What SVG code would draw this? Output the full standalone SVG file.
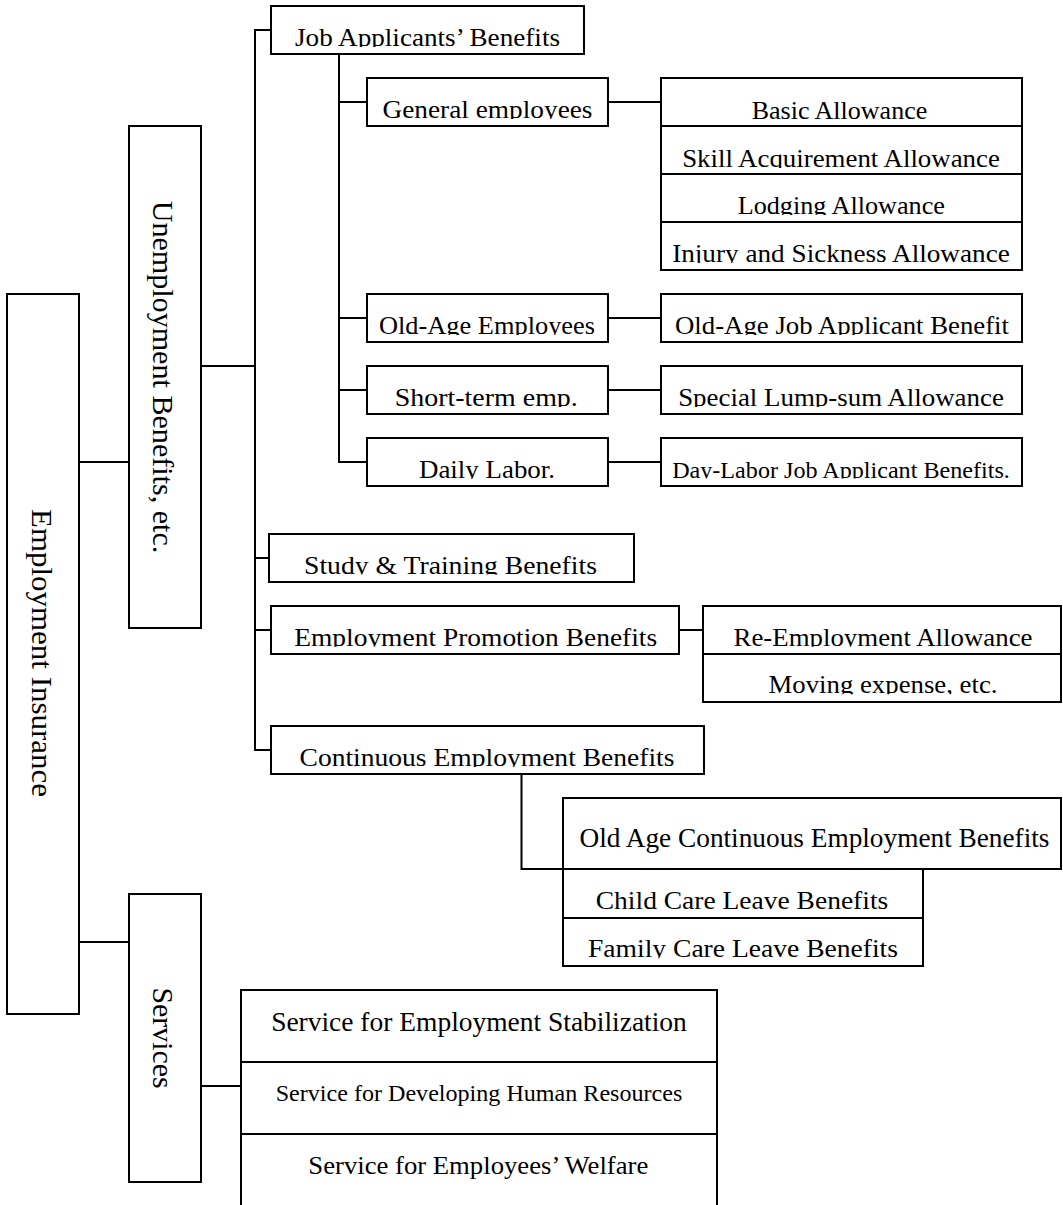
<svg xmlns="http://www.w3.org/2000/svg" width="1063" height="1205" viewBox="0 0 1063 1205">
<style>
  .box{fill:#fff;stroke:#000;stroke-width:2}
  .div{stroke:#000;stroke-width:2;fill:none}
  .con{stroke:#000;stroke-width:2;fill:none}
  text{font-family:"Liberation Serif","Times New Roman",serif;font-size:26px;fill:#000;text-anchor:middle}
  .s22{font-size:23px}
  .s23{font-size:23px}
  .s26{font-size:26px}
  .s27{font-size:27px}
  .v{font-size:30px}
</style>
<defs>
  <clipPath id="c1"><rect x="271" y="6" width="313" height="41"/></clipPath>
  <clipPath id="c2"><rect x="367" y="78" width="241" height="41"/></clipPath>
  <clipPath id="c3"><rect x="367" y="294" width="241" height="41"/></clipPath>
  <clipPath id="c4"><rect x="367" y="366" width="241" height="41"/></clipPath>
  <clipPath id="c5"><rect x="367" y="438" width="241" height="41"/></clipPath>
  <clipPath id="c6"><rect x="661" y="78" width="361" height="42"/></clipPath>
  <clipPath id="c7"><rect x="661" y="126" width="361" height="42"/></clipPath>
  <clipPath id="c8"><rect x="661" y="174" width="361" height="41"/></clipPath>
  <clipPath id="c9"><rect x="661" y="222" width="361" height="41"/></clipPath>
  <clipPath id="c10"><rect x="661" y="294" width="361" height="41"/></clipPath>
  <clipPath id="c11"><rect x="661" y="366" width="361" height="41"/></clipPath>
  <clipPath id="c12"><rect x="661" y="438" width="361" height="40.5"/></clipPath>
  <clipPath id="c13"><rect x="269" y="534" width="365" height="40.5"/></clipPath>
  <clipPath id="c14"><rect x="271" y="606" width="408" height="40.7"/></clipPath>
  <clipPath id="c15"><rect x="703" y="606" width="358" height="40.7"/></clipPath>
  <clipPath id="c16"><rect x="703" y="654" width="358" height="40.3"/></clipPath>
  <clipPath id="c17"><rect x="271" y="726" width="433" height="41"/></clipPath>
  <clipPath id="c20"><rect x="563" y="918" width="360" height="40.3"/></clipPath>
</defs>

<g id="connectors">
  <path class="con" d="M73,462 H129"/>
  <path class="con" d="M73,942 H129"/>
  <path class="con" d="M199,366 H255"/>
  <path class="con" d="M271,30 H255 V750 H271"/>
  <path class="con" d="M255,558 H269"/>
  <path class="con" d="M255,630 H271"/>
  <path class="con" d="M339,54 V462 H367"/>
  <path class="con" d="M339,102 H367"/>
  <path class="con" d="M339,318 H367"/>
  <path class="con" d="M339,390 H367"/>
  <path class="con" d="M606,102 H661"/>
  <path class="con" d="M606,318 H661"/>
  <path class="con" d="M606,390 H661"/>
  <path class="con" d="M606,462 H661"/>
  <path class="con" d="M677,630 H703"/>
  <path class="con" d="M521.5,774 V869 H563"/>
  <path class="con" d="M199,1086 H241"/>
</g>

<g id="employment-insurance">
  <rect class="box" x="7" y="294" width="72" height="720"/>
  <text class="v" transform="translate(31.7,653) rotate(90)" textLength="288" lengthAdjust="spacingAndGlyphs">Employment Insurance</text>
</g>
<g id="unemployment-benefits">
  <rect class="box" x="129" y="126" width="72" height="502"/>
  <text class="v" transform="translate(152.7,377) rotate(90)" textLength="352.7" lengthAdjust="spacingAndGlyphs">Unemployment Benefits, etc.</text>
</g>
<g id="services">
  <rect class="box" x="129" y="894" width="72" height="288"/>
  <text class="v" transform="translate(153.3,1038) rotate(90)" textLength="101" lengthAdjust="spacingAndGlyphs">Services</text>
</g>

<g id="job-applicants-benefits">
  <rect class="box" x="271" y="6" width="313" height="48"/>
  <text x="427.5" y="46" clip-path="url(#c1)" textLength="265" lengthAdjust="spacingAndGlyphs">Job Applicants’ Benefits</text>
</g>
<g id="general-employees">
  <rect class="box" x="367" y="78" width="241" height="48"/>
  <text x="487.5" y="118" clip-path="url(#c2)" textLength="210" lengthAdjust="spacingAndGlyphs">General employees</text>
</g>
<g id="old-age-employees">
  <rect class="box" x="367" y="294" width="241" height="48"/>
  <text x="487" y="334" clip-path="url(#c3)" textLength="216" lengthAdjust="spacingAndGlyphs">Old-Age Employees</text>
</g>
<g id="short-term-emp">
  <rect class="box" x="367" y="366" width="241" height="48"/>
  <text x="486.3" y="406" clip-path="url(#c4)" textLength="183" lengthAdjust="spacingAndGlyphs">Short-term emp.</text>
</g>
<g id="daily-labor">
  <rect class="box" x="367" y="438" width="241" height="48"/>
  <text x="487" y="478" clip-path="url(#c5)" textLength="136" lengthAdjust="spacingAndGlyphs">Daily Labor.</text>
</g>

<g id="general-allowances">
  <rect class="box" x="661" y="78" width="361" height="192"/>
  <path class="div" d="M661,126 H1022 M661,174 H1022 M661,222 H1022"/>
  <text x="839.5" y="119" clip-path="url(#c6)" textLength="175.6" lengthAdjust="spacingAndGlyphs">Basic Allowance</text>
  <text x="841" y="166.7" clip-path="url(#c7)" textLength="317.7" lengthAdjust="spacingAndGlyphs">Skill Acquirement Allowance</text>
  <text x="841.3" y="214" clip-path="url(#c8)" textLength="207.3" lengthAdjust="spacingAndGlyphs">Lodging Allowance</text>
  <text x="841" y="262" clip-path="url(#c9)" textLength="337.7" lengthAdjust="spacingAndGlyphs">Injury and Sickness Allowance</text>
</g>
<g id="old-age-job-applicant-benefit">
  <rect class="box" x="661" y="294" width="361" height="48"/>
  <text x="842" y="334" clip-path="url(#c10)" textLength="334" lengthAdjust="spacingAndGlyphs">Old-Age Job Applicant Benefit</text>
</g>
<g id="special-lump-sum-allowance">
  <rect class="box" x="661" y="366" width="361" height="48"/>
  <text x="841" y="406" clip-path="url(#c11)" textLength="325.7" lengthAdjust="spacingAndGlyphs">Special Lump-sum Allowance</text>
</g>
<g id="day-labor-job-applicant-benefits">
  <rect class="box" x="661" y="438" width="361" height="48"/>
  <text class="s22" x="841" y="477.5" clip-path="url(#c12)" textLength="337.7" lengthAdjust="spacingAndGlyphs">Day-Labor Job Applicant Benefits.</text>
</g>

<g id="study-training-benefits">
  <rect class="box" x="269" y="534" width="365" height="48"/>
  <text x="450.5" y="573.5" clip-path="url(#c13)" textLength="293" lengthAdjust="spacingAndGlyphs">Study &amp; Training Benefits</text>
</g>
<g id="employment-promotion-benefits">
  <rect class="box" x="271" y="606" width="408" height="48"/>
  <text x="475.7" y="645.7" clip-path="url(#c14)" textLength="363" lengthAdjust="spacingAndGlyphs">Employment Promotion Benefits</text>
</g>
<g id="re-employment">
  <rect class="box" x="703" y="606" width="358" height="96"/>
  <path class="div" d="M703,654 H1061"/>
  <text x="883" y="645.7" clip-path="url(#c15)" textLength="299" lengthAdjust="spacingAndGlyphs">Re-Employment Allowance</text>
  <text x="883" y="693.3" clip-path="url(#c16)" textLength="229" lengthAdjust="spacingAndGlyphs">Moving expense, etc.</text>
</g>
<g id="continuous-employment-benefits">
  <rect class="box" x="271" y="726" width="433" height="48"/>
  <text x="487" y="766" clip-path="url(#c17)" textLength="375" lengthAdjust="spacingAndGlyphs">Continuous Employment Benefits</text>
</g>
<g id="old-age-continuous">
  <rect class="box" x="563" y="798" width="498" height="71"/>
  <text class="s27" x="814.5" y="847.3" textLength="470" lengthAdjust="spacingAndGlyphs">Old Age Continuous Employment Benefits</text>
</g>
<g id="care-leave">
  <rect class="box" x="563" y="869" width="360" height="97"/>
  <path class="div" d="M563,918 H923"/>
  <text x="742" y="909.3" textLength="292.5" lengthAdjust="spacingAndGlyphs">Child Care Leave Benefits</text>
  <text x="743" y="957.3" clip-path="url(#c20)" textLength="310" lengthAdjust="spacingAndGlyphs">Family Care Leave Benefits</text>
</g>

<g id="service-items">
  <rect class="box" x="241" y="990" width="476" height="218"/>
  <path class="div" d="M241,1062 H717 M241,1134 H717"/>
  <text class="s27" x="479" y="1030.7" textLength="415.7" lengthAdjust="spacingAndGlyphs">Service for Employment Stabilization</text>
  <text class="s23" x="479" y="1101" textLength="406.7" lengthAdjust="spacingAndGlyphs">Service for Developing Human Resources</text>
  <text class="s26" x="478.3" y="1174" textLength="340" lengthAdjust="spacingAndGlyphs">Service for Employees’ Welfare</text>
</g>
</svg>
